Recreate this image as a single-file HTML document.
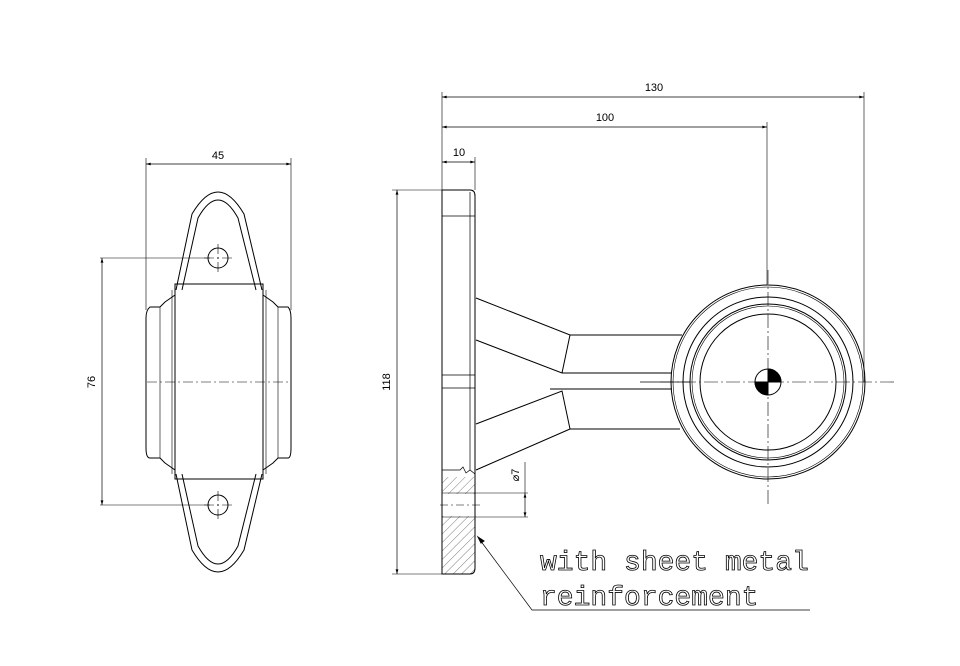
<!DOCTYPE html>
<html><head><meta charset="utf-8"><style>
html,body{margin:0;padding:0;background:#fff;width:960px;height:666px;overflow:hidden}
svg text{font-family:"Liberation Sans",sans-serif}
</style></head><body>
<svg width="960" height="666" viewBox="0 0 960 666" xmlns="http://www.w3.org/2000/svg">
<defs>
<marker id="a" viewBox="0 0 10 6" refX="10" refY="3" markerWidth="8" markerHeight="4" orient="auto-start-reverse"><path d="M0,0 L10,3 L0,6z" fill="#000"/></marker>
<pattern id="h" width="6" height="6" patternUnits="userSpaceOnUse" patternTransform="rotate(45)"><line x1="0" y1="0" x2="0" y2="6" stroke="#444" stroke-width="0.7"/></pattern>
</defs>
<g fill="none" stroke="#000" stroke-width="1">
<!-- LEFT VIEW -->
<line x1="146" y1="164" x2="291" y2="164" marker-start="url(#a)" marker-end="url(#a)" stroke-width="0.7"/>
<line x1="146" y1="158" x2="146" y2="310" stroke-width="0.6"/>
<line x1="291" y1="158" x2="291" y2="310" stroke-width="0.6"/>
<path d="M176,290 L192,214 Q218,170 244,214 L262,290"/>
<path d="M182,290 L198,218 Q218,182 238,218 L256,290"/>
<path d="M176,474 L192,550 Q218,594 244,550 L262,474"/>
<path d="M182,474 L198,546 Q218,582 238,546 L256,474"/>
<rect x="175" y="284" width="88" height="195"/>
<path d="M175,295 L165,302 L160,307 L150,307 Q146,310 146,318 L146,448 Q146,458 150,458 L160,458 L165,463 L175,470"/>
<line x1="160" y1="307" x2="160" y2="458" stroke-width="0.6"/>
<line x1="172" y1="290" x2="172" y2="474" stroke-width="0.6"/>
<path d="M263,295 L273,302 L278,307 L288,307 Q291,310 291,318 L291,448 Q291,458 288,458 L278,458 L273,463 L263,470"/>
<line x1="278" y1="307" x2="278" y2="458" stroke-width="0.6"/>
<line x1="266" y1="290" x2="266" y2="474" stroke-width="0.6"/>
<circle cx="218" cy="258" r="10"/>
<circle cx="218" cy="505" r="10"/>
<g stroke-width="0.6" stroke-dasharray="10,3,2,3">
<line x1="147" y1="382" x2="290" y2="382"/>
<line x1="218" y1="244" x2="218" y2="272"/><line x1="204" y1="258" x2="232" y2="258"/>
<line x1="218" y1="491" x2="218" y2="519"/><line x1="204" y1="505" x2="232" y2="505"/>
</g>
<line x1="100" y1="258" x2="210" y2="258" stroke-width="0.6"/>
<line x1="100" y1="505" x2="210" y2="505" stroke-width="0.6"/>
<line x1="102" y1="258" x2="102" y2="505" marker-start="url(#a)" marker-end="url(#a)" stroke-width="0.7"/>
<!-- RIGHT VIEW dims -->
<line x1="442" y1="92" x2="442" y2="190" stroke-width="0.6"/>
<line x1="864" y1="92" x2="864" y2="382" stroke-width="0.6"/>
<line x1="767" y1="122" x2="767" y2="285" stroke-width="0.6"/>
<line x1="475" y1="157" x2="475" y2="190" stroke-width="0.6"/>
<line x1="442" y1="97" x2="864" y2="97" marker-start="url(#a)" marker-end="url(#a)" stroke-width="0.7"/>
<line x1="442" y1="127" x2="767" y2="127" marker-start="url(#a)" marker-end="url(#a)" stroke-width="0.7"/>
<line x1="442" y1="162" x2="475" y2="162" marker-start="url(#a)" marker-end="url(#a)" stroke-width="0.7"/>
<line x1="392" y1="190" x2="442" y2="190" stroke-width="0.6"/>
<line x1="392" y1="574" x2="442" y2="574" stroke-width="0.6"/>
<line x1="397" y1="190" x2="397" y2="574" marker-start="url(#a)" marker-end="url(#a)" stroke-width="0.7"/>
<!-- plate -->
<rect x="442" y="477" width="33" height="17" fill="url(#h)" stroke="none"/>
<rect x="442" y="516" width="33" height="58" fill="url(#h)" stroke="none"/>
<path d="M442,190 L470,190 Q475,190 475,196 L475,568 Q475,574 470,574 L442,574 Z"/>
<line x1="470" y1="192" x2="470" y2="470" stroke-width="0.7"/>
<line x1="442" y1="216" x2="475" y2="216" stroke-width="0.7"/>
<line x1="442" y1="375" x2="475" y2="375" stroke-width="0.7"/>
<line x1="442" y1="388" x2="475" y2="388" stroke-width="0.7"/>
<path d="M442,470 L460,470 L463,467 L466,473 L470,470 L475,474" stroke-width="0.7"/>
<line x1="442" y1="493" x2="528" y2="493" stroke-width="0.6"/>
<line x1="442" y1="517" x2="528" y2="517" stroke-width="0.6"/>
<line x1="440" y1="505" x2="480" y2="505" stroke-width="0.6" stroke-dasharray="8,3,2,3"/>
<line x1="525" y1="462" x2="525" y2="493" stroke-width="0.6"/>
<line x1="525" y1="493" x2="525" y2="517" marker-start="url(#a)" marker-end="url(#a)" stroke-width="0.7"/>
<!-- arms -->
<path d="M476,298 L570,335 L682,335"/>
<path d="M476,340 L562,373 L672,373"/>
<path d="M570,335 L562,373"/>
<path d="M550,389 L672,389"/>
<path d="M476,424 L562,391 L570,429 L680,429"/>
<path d="M476,470 L570,429"/>
<line x1="640" y1="382" x2="690" y2="382" stroke-width="0.7"/>
<!-- circles -->
<circle cx="768" cy="382" r="97"/>
<circle cx="768" cy="382" r="95" stroke-width="0.6"/>
<circle cx="768" cy="382" r="85"/>
<circle cx="768" cy="382" r="78"/>
<circle cx="768" cy="382" r="76" stroke-width="0.6"/>
<circle cx="768" cy="382" r="68"/>
<g stroke-width="0.6" stroke-dasharray="14,3,2,3">
<line x1="660" y1="382" x2="895" y2="382"/>
<line x1="768" y1="270" x2="768" y2="505"/>
</g>
<circle cx="768" cy="382" r="13"/>
<path d="M768,369 A13,13 0 0 1 781,382 L768,382Z" fill="#000"/>
<path d="M768,395 A13,13 0 0 1 755,382 L768,382Z" fill="#000"/>
<!-- leader -->
<path d="M480,540 L532,610 L810,610" stroke-width="0.7"/>
<path d="M478,537 l6,4 l-3,2z" fill="#000"/>
</g>
<g font-size="11" fill="#000">
<text x="654" y="91" text-anchor="middle">130</text>
<text x="605" y="121" text-anchor="middle">100</text>
<text x="459" y="156" text-anchor="middle">10</text>
<text x="218" y="159" text-anchor="middle">45</text>
<text transform="translate(95,382) rotate(-90)" text-anchor="middle">76</text>
<text transform="translate(390,382) rotate(-90)" text-anchor="middle">118</text>
<text transform="translate(519,475) rotate(-90)" text-anchor="middle">⌀7</text>
</g>
<g font-family="Liberation Mono,monospace" font-size="28" fill="#fff" stroke="#000" stroke-width="0.8">
<text x="540" y="570" style="font-family:'Liberation Mono',monospace">with sheet metal</text>
<text x="540" y="605" style="font-family:'Liberation Mono',monospace">reinforcement</text>
</g>
</svg>
</body></html>
